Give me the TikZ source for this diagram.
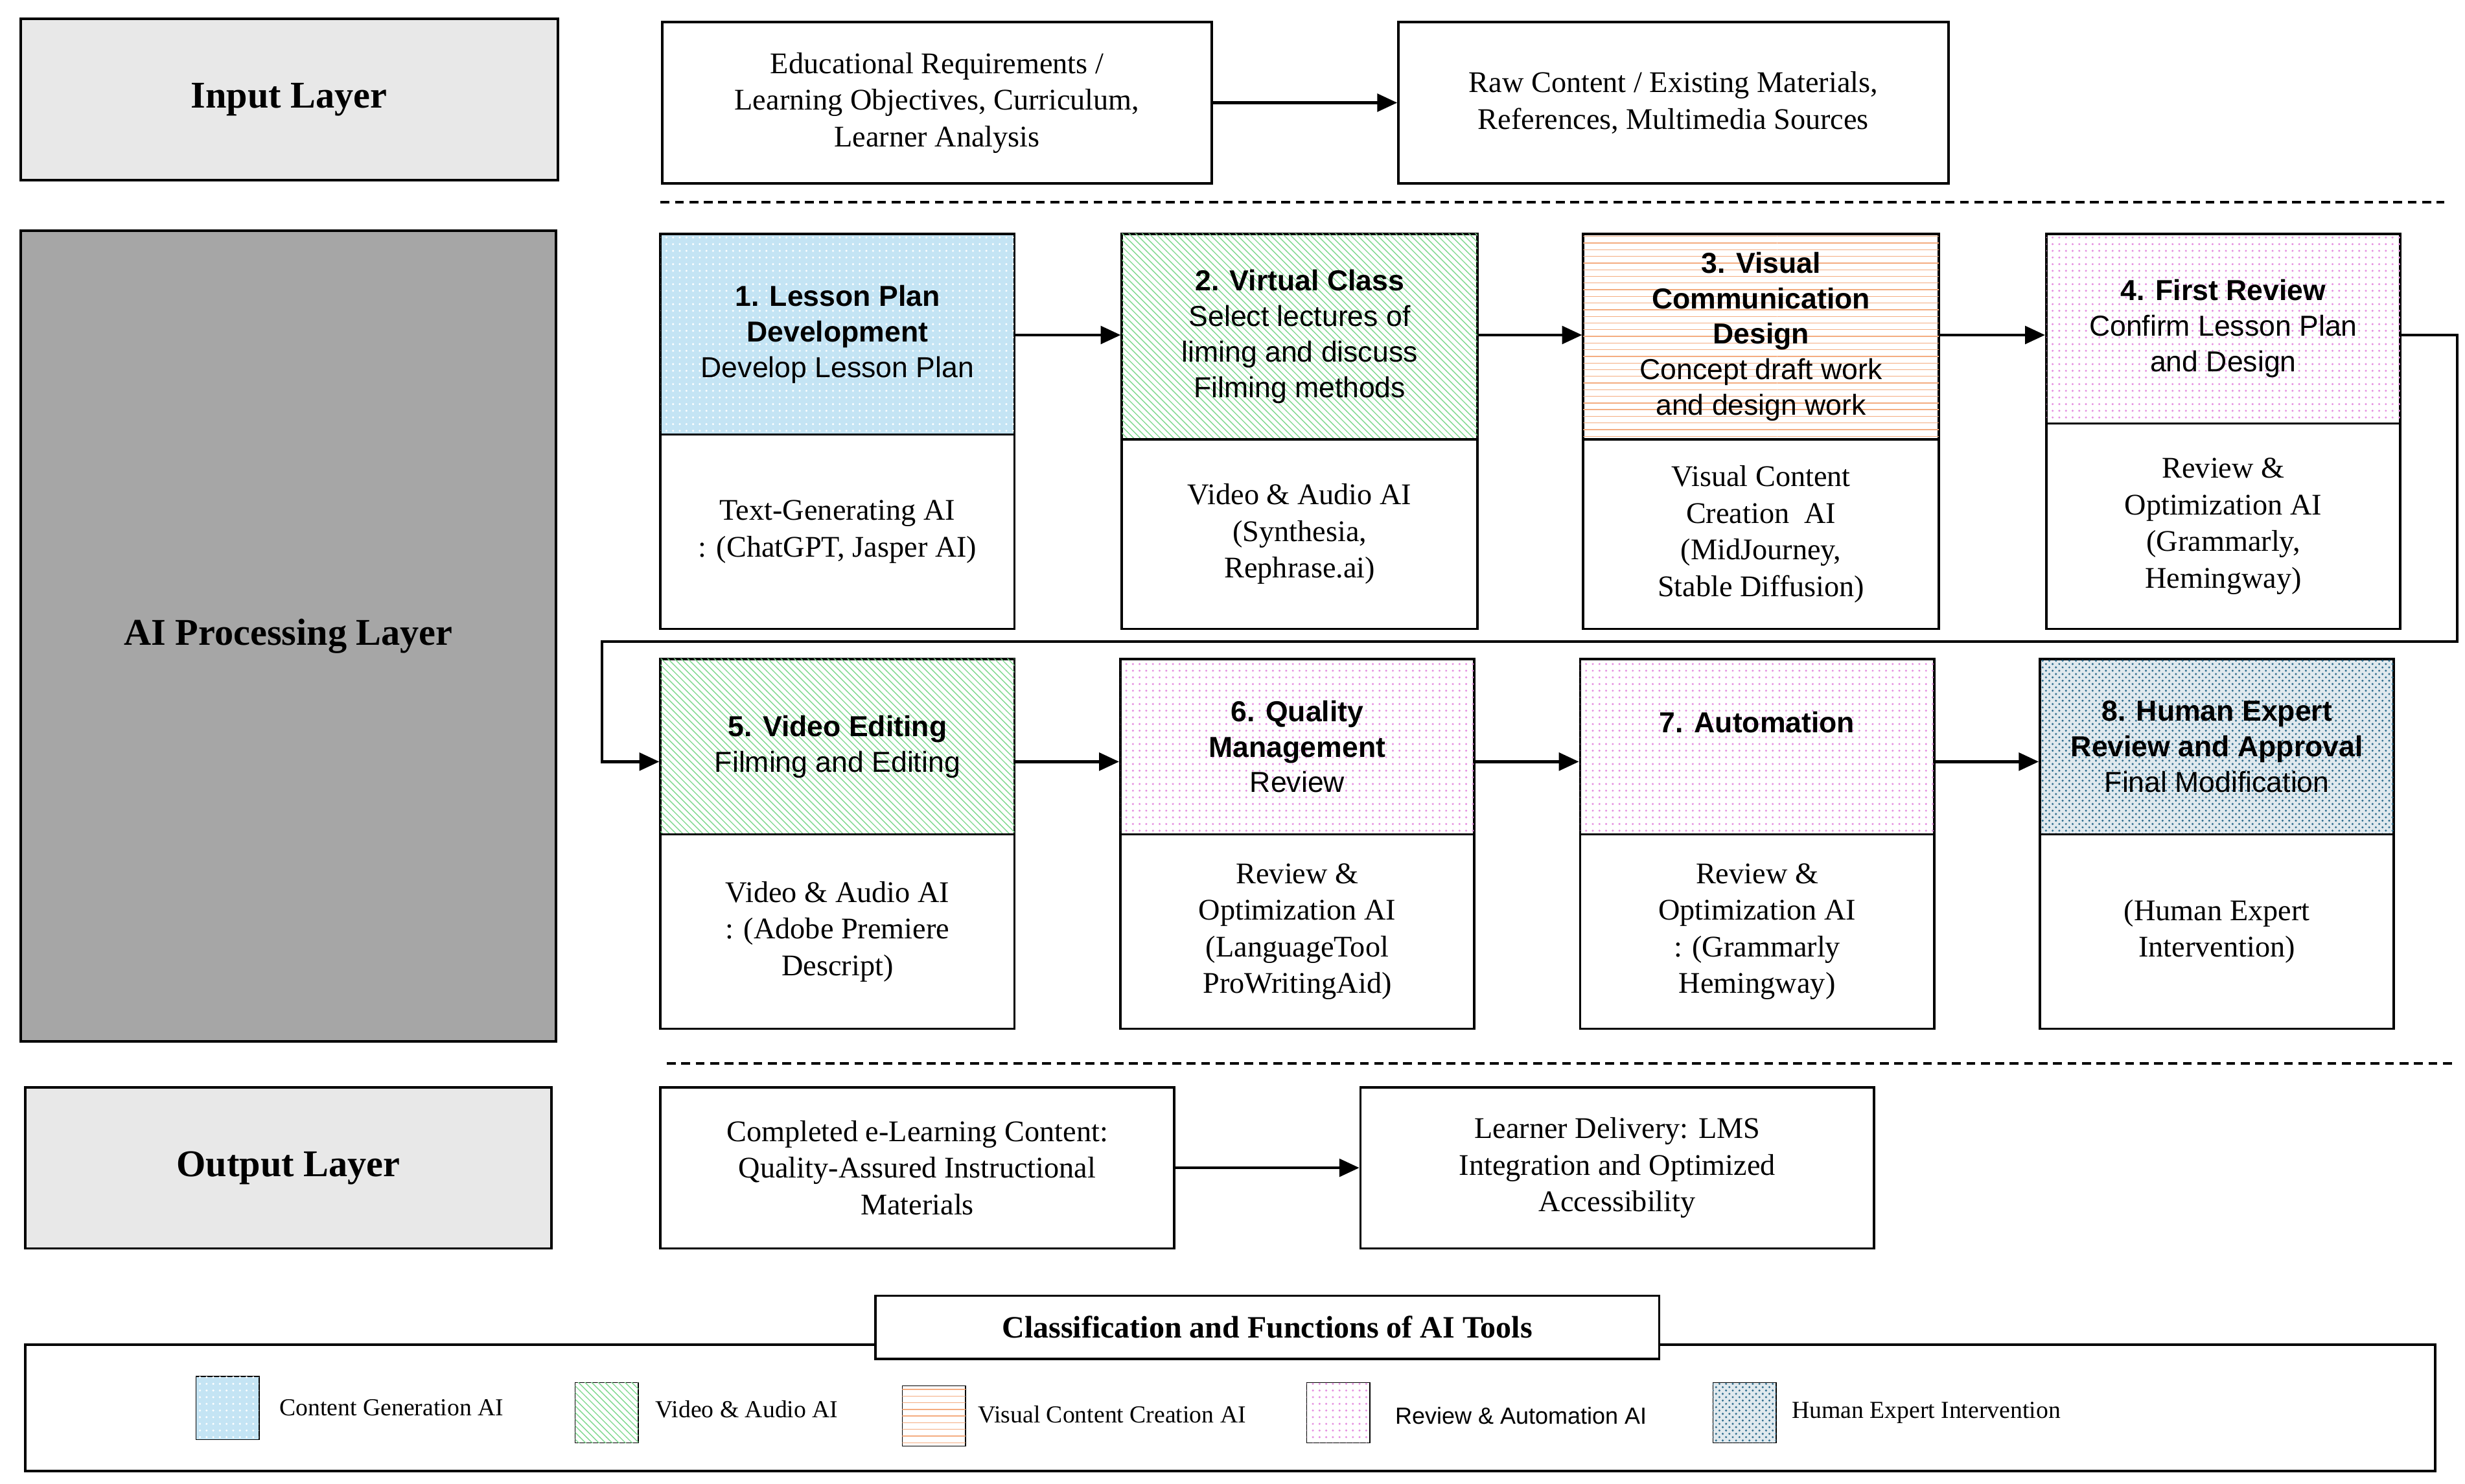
\documentclass[tikz,border=0pt]{standalone}
\usepackage{fontspec}
\setmainfont{Liberation Serif}
\newfontfamily\sans{Liberation Sans}
\usetikzlibrary{fit,arrows.meta,patterns}
\definecolor{lgray}{HTML}{E8E8E8}
\definecolor{dgray}{HTML}{A6A6A6}
\definecolor{lblue}{HTML}{C4E4F4}
\definecolor{gr}{HTML}{7FD88F}
\definecolor{orng}{HTML}{F08A4B}
\definecolor{pnk}{HTML}{E58FE0}
\definecolor{teal2}{HTML}{2F6E8E}
\newcommand\mybox[6]{\node[draw,line width=1.1pt,inner sep=0pt,#2,fit={(#4)(#5)}] (#1) {};\node[plain,#3] (#1-t) at (#1.center) {#6};}
\begin{document}
\begin{tikzpicture}[x=0.25mm,y=-0.25mm,
 plain/.style={align=center,inner sep=0pt},
 sr/.style={font=\fontsize{13.5}{16.5}\selectfont},
 ss/.style={font=\sans\fontsize{13}{16}\selectfont},
 sl/.style={font=\bfseries\fontsize{17}{20}\selectfont},
 arr/.style={-{Triangle[length=9pt,width=8pt]},line width=1.3pt},
 cblue/.style={fill=lblue,postaction={pattern=dots,pattern color=white}},
 cgreen/.style={postaction={pattern=north west lines,pattern color=gr}},
 corange/.style={postaction={pattern=horizontal lines,pattern color=orng!70}},
 cpink/.style={postaction={pattern=dots,pattern color=pnk}},
 cteal/.style={fill=teal2!15,postaction={pattern=crosshatch dots,pattern color=teal2}},
 lg/.style={anchor=west,font=\fontsize{11}{13}\selectfont}]
\useasboundingbox (0,0) rectangle (1560,939);
% input layer
\mybox{inl}{fill=lgray}{sl}{13,12}{353,114}{Input Layer}
\mybox{ia}{}{sr}{419,14}{767,116}{Educational Requirements /\\Learning Objectives, Curriculum,\\Learner Analysis}
\mybox{ib}{}{sr}{885,14}{1233,116}{Raw Content / Existing Materials,\\References, Multimedia Sources}
\draw[arr] (ia) -- (ib);
\draw[line width=1pt,dash pattern=on 4pt off 2.5pt] (418,128) -- (1547,128);
% AI layer
\mybox{ail}{fill=dgray}{sl}{13,146}{352,659}{AI Processing Layer}
% row 1
\mybox{s1}{cblue}{ss}{418,148}{642,275}{\textbf{1. Lesson Plan}\\\textbf{Development}\\Develop Lesson Plan}
\mybox{t1}{}{sr}{418,275}{642,398}{Text-Generating AI\\: (ChatGPT, Jasper AI)}
\mybox{s2}{cgreen}{ss}{710,148}{935,278}{\textbf{2. Virtual Class}\\Select lectures of\\liming and discuss\\Filming methods}
\mybox{t2}{}{sr}{710,278}{935,398}{Video \& Audio AI\\(Synthesia,\\Rephrase.ai)}
\mybox{s3}{corange}{ss}{1002,148}{1227,278}{\textbf{3. Visual}\\\textbf{Communication}\\\textbf{Design}\\Concept draft work\\and design work}
\mybox{t3}{}{sr}{1002,278}{1227,398}{Visual Content\\Creation\ \ AI\\(MidJourney,\\Stable Diffusion)}
\mybox{s4}{cpink}{ss}{1295,148}{1519,268}{\textbf{4. First Review}\\Confirm Lesson Plan\\and Design}
\mybox{t4}{}{sr}{1295,268}{1519,398}{Review \&\\Optimization AI\\(Grammarly,\\Hemingway)}
\draw[arr] (s1.east |- 0,212) -- (s2.west |- 0,212);
\draw[arr] (s2.east |- 0,212) -- (s3.west |- 0,212);
\draw[arr] (s3.east |- 0,212) -- (s4.west |- 0,212);
% row 2
\mybox{s5}{cgreen}{ss}{418,417}{642,528}{\textbf{5. Video Editing}\\Filming and Editing}
\mybox{t5}{}{sr}{418,528}{642,651}{Video \& Audio AI\\: (Adobe Premiere\\Descript)}
\mybox{s6}{cpink}{ss}{709,417}{933,528}{\textbf{6. Quality}\\\textbf{Management}\\Review}
\mybox{t6}{}{sr}{709,528}{933,651}{Review \&\\Optimization AI\\(LanguageTool\\ProWritingAid)}
\mybox{s7}{cpink}{ss}{1000,417}{1224,528}{\textbf{7. Automation}\\[6pt]}
\mybox{t7}{}{sr}{1000,528}{1224,651}{Review \&\\Optimization AI\\: (Grammarly\\Hemingway)}
\mybox{s8}{cteal}{ss}{1291,417}{1515,528}{\textbf{8. Human Expert}\\\textbf{Review and Approval}\\Final Modification}
\mybox{t8}{}{sr}{1291,528}{1515,651}{(Human Expert\\Intervention)}
\draw[arr] (s5.east |- 0,482) -- (s6.west |- 0,482);
\draw[arr] (s6.east |- 0,482) -- (s7.west |- 0,482);
\draw[arr] (s7.east |- 0,482) -- (s8.west |- 0,482);
\coordinate (c1) at (1555,212); \coordinate (c2) at (1555,406);
\coordinate (c3) at (381,406); \coordinate (c4) at (381,482);
\draw[arr] (s4.east |- 0,212) -- (c1) -- (c2) -- (c3) -- (c4) -- (s5.west |- 0,482);
\draw[line width=1pt,dash pattern=on 4pt off 2.5pt] (422,673) -- (1552,673);
% output
\mybox{ol}{fill=lgray}{sl}{16,688}{349,790}{Output Layer}
\mybox{oa}{}{sr}{418,688}{743,790}{Completed e-Learning Content:\\Quality-Assured Instructional\\Materials}
\mybox{ob}{}{sr}{861,688}{1186,790}{Learner Delivery: LMS\\Integration and Optimized\\Accessibility}
\draw[arr] (oa) -- (ob);
% legend
\node[draw,line width=1.1pt,inner sep=0pt,fit={(16,851)(1541,931)}] (leg) {};
\mybox{lt}{fill=white}{font=\bfseries\fontsize{14}{16}\selectfont}{554,820}{1050,860}{Classification and Functions of AI Tools}
\node[draw,cblue,inner sep=0pt,fit={(124,871)(164,911)}] (k1) {};
\node[lg] (l1) at (172,891) {Content Generation AI};
\node[draw,cgreen,inner sep=0pt,fit={(364,875)(404,913)}] (k2) {};
\node[lg] (l2) at (410,892) {Video \& Audio AI};
\node[draw,corange,inner sep=0pt,fit={(571,877)(611,915)}] (k3) {};
\node[lg] (l3) at (614,895) {Visual Content Creation AI};
\node[draw,cpink,inner sep=0pt,fit={(827,875)(867,913)}] (k4) {};
\node[lg,font=\sans\fontsize{10.5}{13}\selectfont] (l4) at (878,896) {Review \& Automation AI};
\node[draw,cteal,inner sep=0pt,fit={(1084,875)(1124,913)}] (k5) {};
\node[lg] (l5) at (1129,894) {Human Expert Intervention};
\end{tikzpicture}
\end{document}
